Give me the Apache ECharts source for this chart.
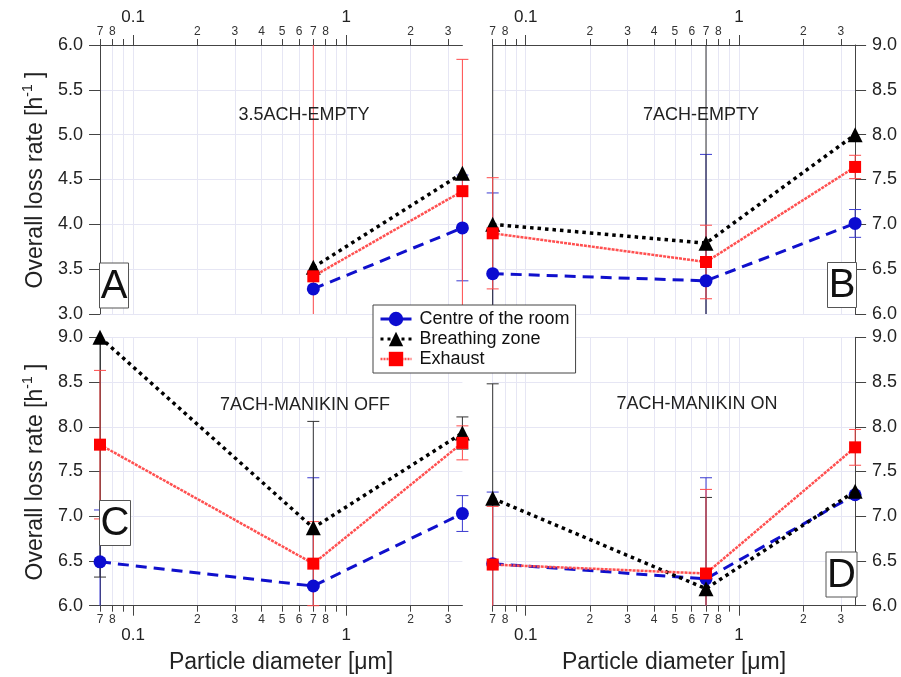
<!DOCTYPE html>
<html><head><meta charset="utf-8">
<script src="https://cdn.jsdelivr.net/npm/echarts@6/dist/echarts.min.js"></script>
<style>html,body{margin:0;padding:0;background:#fff}#c{width:901px;height:677px}</style>
</head><body><div id="c"></div>
<script>
// ---------------- data ----------------
const diameters = [0.07, 0.7, 3.5];
const panelTitles = ['3.5ACH-EMPTY', '7ACH-EMPTY', '7ACH-MANIKIN OFF', '7ACH-MANIKIN ON'];
const panelLetters = ['A', 'B', 'C', 'D'];
const seriesNames = ['Centre of the room', 'Breathing zone', 'Exhaust'];

// Panel A (3.5ACH-EMPTY)
const centreA = [null, 3.28, 3.96];
const breathA = [null, 3.52, 4.57];
const exhaustA = [null, 3.42, 4.37];
const centreErrA = [null, 0, 0.59];
const breathErrA = [null, 0, 0];
const exhaustErrA = [null, 2.8, 1.47];
// Panel B (7ACH-EMPTY)
const centreB = [6.45, 6.37, 7.01];
const breathB = [7.00, 6.79, 8.00];
const exhaustB = [6.90, 6.58, 7.64];
const centreErrB = [0.90, 1.41, 0.155];
const breathErrB = [2.3, 2.4, 0];
const exhaustErrB = [0.62, 0.41, 0.13];
// Panel C (7ACH-MANIKIN OFF)
const centreC = [6.49, 6.22, 7.03];
const breathC = [9.00, 6.87, 7.93];
const exhaustC = [7.80, 6.47, 7.82];
const centreErrC = [0.58, 1.21, 0.20];
const breathErrC = [2.68, 1.19, 0.18];
const exhaustErrC = [0.83, 0.47, 0.19];
// Panel D (7ACH-MANIKIN ON)
const centreD = [6.47, 6.30, 7.24];
const breathD = [7.20, 6.19, 7.28];
const exhaustD = [6.46, 6.36, 7.77];
const centreErrD = [0.80, 1.13, 0];
const breathErrD = [1.28, 1.02, 0];
const exhaustErrD = [0.65, 0.94, 0.20];

// axes
const xMin = 0.07, xMax = 3.5;
const minorTicks = [0.07, 0.08, 0.09, 0.1, 0.2, 0.3, 0.4, 0.5, 0.6, 0.7, 0.8, 0.9, 1, 2, 3];
const minorTickLabels = ['7', '8', '', '', '2', '3', '4', '5', '6', '7', '8', '', '', '2', '3'];
const majorTicks = [0.1, 1];
const majorTickLabels = ['0.1', '1'];
const yRanges = [[3, 6], [6, 9], [6, 9], [6, 9]];
const yInterval = 0.5;

// ---------------- build ----------------
const FONT = 'Liberation Sans, Arial, Helvetica, sans-serif';
const lg = Math.log10;
const panels = [
  { v: [centreA, breathA, exhaustA], e: [centreErrA, breathErrA, exhaustErrA] },
  { v: [centreB, breathB, exhaustB], e: [centreErrB, breathErrB, exhaustErrB] },
  { v: [centreC, breathC, exhaustC], e: [centreErrC, breathErrC, exhaustErrC] },
  { v: [centreD, breathD, exhaustD], e: [centreErrD, breathErrD, exhaustErrD] }
];
const grids = [
  { left: 100, top: 45, width: 362.4, height: 269 },
  { left: 492.7, top: 45, width: 362.4, height: 269 },
  { left: 100, top: 337.3, width: 362.4, height: 268.4 },
  { left: 492.7, top: 337.3, width: 362.4, height: 268.4 }
];
const markerColors = ['#0c0cd0', '#000000', '#ff0000'];
const lineStyles = [
  { color: '#1010cc', width: 3, type: [11, 7] },
  { color: '#000000', width: 3.5, type: [3.5, 4] },
  { color: '#ff5050', width: 2.5, type: [3, 1] }
];
const legendLineStyles = [
  { color: '#1010cc', width: 3, type: 'solid' },
  { color: '#000000', width: 3, type: [3, 4] },
  { color: '#ff5050', width: 2.5, type: [2, 1] }
];
const symbols = ['circle', 'triangle', 'rect'];
const symbolSizes = [13, 15, 12];
const errColors = ['#3a3ad0', '#333333', '#ff4a4a'];
const axisColor = '#444';
const gridColor = '#e6e6f4';

function labelFor(list, labels) {
  return function (v) {
    for (let i = 0; i < list.length; i++) if (Math.abs(lg(list[i]) - v) < 1e-6) return labels[i];
    return '';
  };
}
const minorLabelVals = minorTicks.filter((t, i) => minorTickLabels[i] !== '').map(lg);

const xAxis = [], yAxis = [], series = [];
for (let g = 0; g < 4; g++) {
  const pos = g < 2 ? 'top' : 'bottom';
  xAxis.push({
    type: 'value', gridIndex: g, position: pos, min: lg(xMin), max: lg(xMax),
    axisLine: { show: true, onZero: false, lineStyle: { color: axisColor, width: 1 } },
    axisTick: { show: true, inside: false, length: 6, customValues: minorTicks.map(lg), lineStyle: { color: axisColor } },
    axisLabel: { customValues: minorLabelVals, formatter: labelFor(minorTicks, minorTickLabels),
      fontSize: 12, fontFamily: FONT, color: '#333', margin: g < 2 ? 7 : 8 },
    splitLine: { show: true, lineStyle: { color: gridColor, width: 1 } }
  });
  xAxis.push({
    type: 'value', gridIndex: g, position: pos, min: lg(xMin), max: lg(xMax),
    axisLine: { show: false, onZero: false },
    axisTick: { show: true, inside: false, length: 10, customValues: majorTicks.map(lg), lineStyle: { color: axisColor } },
    axisLabel: { customValues: majorTicks.map(lg), formatter: labelFor(majorTicks, majorTickLabels),
      fontSize: 17, fontFamily: FONT, color: '#222', margin: g < 2 ? 19 : 21 },
    splitLine: { show: false }
  });
  yAxis.push({
    type: 'value', gridIndex: g, position: (g % 2 === 0) ? 'left' : 'right',
    min: yRanges[g][0], max: yRanges[g][1], interval: yInterval,
    axisLine: { show: true, onZero: false, lineStyle: { color: axisColor, width: 1 } },
    axisTick: { show: true, inside: false, length: 11, lineStyle: { color: axisColor } },
    axisLabel: { fontSize: 18, fontFamily: FONT, color: '#222', margin: 17, formatter: v => v.toFixed(1) },
    splitLine: { show: true, lineStyle: { color: gridColor, width: 1 } }
  });
  // error bars
  for (let s = 0; s < 3; s++) {
    const vals = panels[g].v[s], errs = panels[g].e[s];
    const data = [];
    diameters.forEach((d, i) => { if (vals[i] != null) data.push([lg(d), vals[i], errs[i]]); });
    series.push({
      type: 'custom', xAxisIndex: 2 * g, yAxisIndex: g, z: 2, silent: true,
      itemStyle: { color: errColors[s] },
      encode: { x: 0, y: 1 },
      data: data,
      renderItem: function (params, api) {
        const e = api.value(2);
        if (!(e > 0)) return null;
        const x = api.value(0), v = api.value(1);
        const cs = params.coordSys;
        const pt = api.coord([x, v + e]), pb = api.coord([x, v - e]);
        const top = cs.y, bottom = cs.y + cs.height;
        const y1 = Math.max(pt[1], top), y2 = Math.min(pb[1], bottom);
        const st = { stroke: api.visual('color'), lineWidth: 1 };
        const ch = [{ type: 'line', shape: { x1: pt[0], y1: y1, x2: pt[0], y2: y2 }, style: st }];
        if (pt[1] >= top - 0.5) ch.push({ type: 'line', shape: { x1: pt[0] - 6, y1: pt[1], x2: pt[0] + 6, y2: pt[1] }, style: st });
        if (pb[1] <= bottom + 1) ch.push({ type: 'line', shape: { x1: pb[0] - 6, y1: pb[1], x2: pb[0] + 6, y2: pb[1] }, style: st });
        return { type: 'group', children: ch };
      }
    });
  }
  // lines
  for (let s = 0; s < 3; s++) {
    const vals = panels[g].v[s];
    const data = [];
    diameters.forEach((d, i) => { if (vals[i] != null) data.push([lg(d), vals[i]]); });
    series.push({
      type: 'line', name: seriesNames[s], xAxisIndex: 2 * g, yAxisIndex: g, z: 3 + s,
      data: data, symbol: symbols[s], symbolSize: symbolSizes[s], showAllSymbol: true,
      itemStyle: { color: markerColors[s], borderWidth: 0 },
      lineStyle: lineStyles[s], animation: false, silent: true
    });
  }
}

// graphics: titles, letters, axis names
const titlePos = [[304, 115], [701, 115], [305, 405], [697, 404]];
const letterBoxes = [[99.5, 263, 29, 45], [827.5, 262.5, 29, 45], [99.5, 500.5, 31, 45], [826, 552, 31, 45]];
const graphic = [];
for (let g = 0; g < 4; g++) {
  graphic.push({ type: 'text', x: titlePos[g][0], y: titlePos[g][1], z: 50,
    style: { text: panelTitles[g], fontSize: 18, fontFamily: FONT, fill: '#222', align: 'center', verticalAlign: 'middle' } });
  const b = letterBoxes[g];
  graphic.push({ type: 'rect', z: 60, shape: { x: b[0], y: b[1], width: b[2], height: b[3] },
    style: { fill: '#fff', stroke: '#555', lineWidth: 1 } });
  graphic.push({ type: 'text', z: 61, x: b[0] + b[2] / 2, y: b[1] + b[3] / 2 + 1,
    style: { text: panelLetters[g], fontSize: 40, fontFamily: FONT, fill: '#111', align: 'center', verticalAlign: 'middle' } });
}
const yNameText = '{a|Overall loss rate [h}{s|-1}{a| ]}';
[[36, 180], [36, 472]].forEach(p => {
  graphic.push({ type: 'text', x: p[0], y: p[1], rotation: Math.PI / 2, z: 50,
    style: { text: yNameText, align: 'center', verticalAlign: 'middle', fill: '#222',
      rich: { a: { fontSize: 23, fontFamily: FONT, fill: '#222', lineHeight: 30 },
              s: { fontSize: 14, fontFamily: FONT, fill: '#222', verticalAlign: 'top', lineHeight: 30 } } } });
});
[[281, 663], [674, 663]].forEach(p => {
  graphic.push({ type: 'text', x: p[0], y: p[1], z: 50,
    style: { text: 'Particle diameter [\u03bcm]', fontSize: 23, fontFamily: FONT, fill: '#222', align: 'center', verticalAlign: 'middle' } });
});

const option = {
  animation: false,
  backgroundColor: '#fff',
  textStyle: { fontFamily: FONT },
  grid: grids.map(g => Object.assign({ containLabel: false, outerBoundsMode: 'none' }, g)),
  xAxis: xAxis,
  yAxis: yAxis,
  legend: {
    data: seriesNames.map((n, i) => ({ name: n, lineStyle: legendLineStyles[i] })),
    orient: 'vertical', left: 373, top: 305, z: 40,
    padding: [5, 6, 5, 6], itemGap: 2, itemWidth: 31, itemHeight: 18,
    backgroundColor: '#fff', borderColor: '#444', borderWidth: 1, borderRadius: 0,
    selectedMode: false,
    textStyle: { fontSize: 18, fontFamily: FONT, color: '#111', padding: [0, 0, 0, 3] }
  },
  series: series,
  graphic: graphic
};
const chart = echarts.init(document.getElementById('c'), null, { renderer: 'canvas' });
chart.setOption(option);
</script></body></html>
